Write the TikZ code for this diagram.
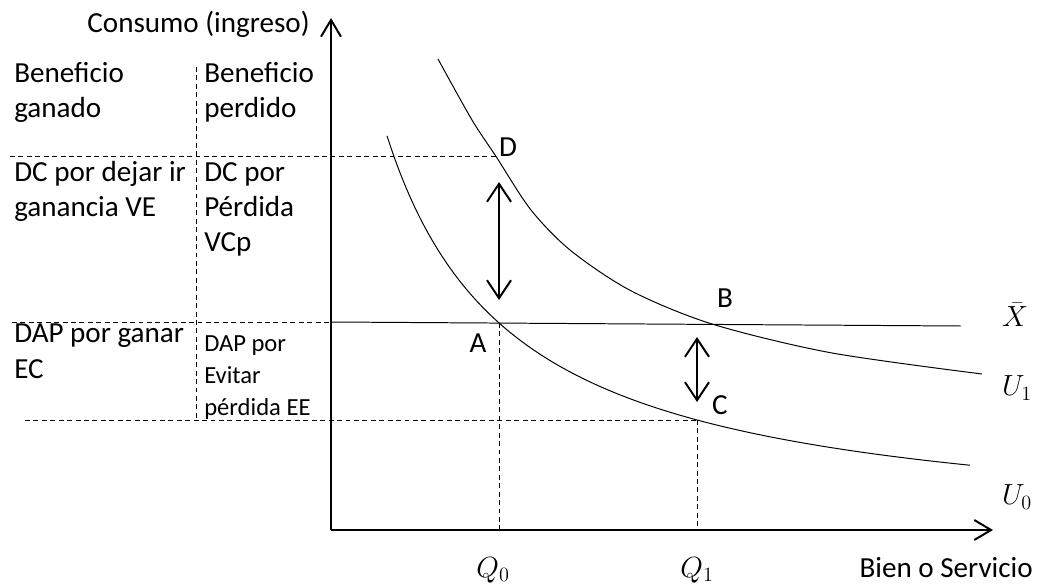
\documentclass[tikz,border=0pt]{standalone}
\usepackage{fontspec}
\setmainfont{Carlito}
\usepackage{tikz}
\usetikzlibrary{arrows.meta,positioning,calc}

\begin{document}
\begin{tikzpicture}[
    font=\fontsize{20.7}{25}\selectfont,
    axis/.style={line width=1.4pt, -{Straight Barb[length=4.2mm,width=5mm]}},
    gap/.style={line width=1.4pt, {Straight Barb[length=4.5mm,width=6mm]}-{Straight Barb[length=4.5mm,width=6mm]}},
    indif/.style={line width=0.7pt},
    guide/.style={line width=0.6pt, dash pattern=on 3.5pt off 2.5pt},
    txt/.style={anchor=base west, align=left, inner sep=0pt},
    pt/.style={inner sep=0pt}
]
    \useasboundingbox (-8.275,-1.35) rectangle (17.65,13.25);

    % points on the curves
    \coordinate (O) at (0,0);
    \coordinate (A) at (4.2,5.175);
    \coordinate (B) at (9.525,5.15);
    \coordinate (C) at (9.15,2.75);
    \coordinate (D) at (4.125,9.34);

    % axes
    \draw[axis] (O) -- (0,12.8) coordinate (ytop);
    \draw[axis] (O) -- (16.55,0) coordinate (xend);
    \node[pt, anchor=base east] (ylab) at (-0.525,12.425) {Consumo (ingreso)};
    \node[pt, anchor=east] (xlab) at (17.55,-0.93) {Bien o Servicio};

    % guide lines
    \coordinate (g1) at (-8.025,9.34);
    \coordinate (g2) at (-7.975,5.2);
    \coordinate (g3) at (-7.65,2.75);
    \coordinate (vtop) at (-3.375,11.575);
    \coordinate (vbot) at (-3.375,2.75);
    \draw[guide] (g1) -- (D);
    \draw[guide] (g2) -- (0,5.2);
    \draw[guide] (g3) -- (C);
    \draw[guide] (vtop) -- (vbot);
    \draw[guide] (A) -- (A |- O);
    \draw[guide] (C) -- (C |- O);

    % budget line
    \draw[indif] (0,5.2) -- (15.75,5.1) coordinate (xb);

    % indifference curves
    \draw[indif] plot[domain=1.4:15.975, samples=80, smooth] (\x, {32.37/(\x+1.82)-0.2});
    \draw[indif] plot[smooth] coordinates {(2.675,11.775) (3.525,10.25) (D) (5.0,8.0) (6.0,6.98) (7.5,5.98) (B) (12.5,4.43) (16.275,3.9)};

    % variations
    \coordinate (d1) at (4.2,8.7);
    \coordinate (d2) at (4.2,5.75);
    \coordinate (d3) at (9.15,4.825);
    \coordinate (d4) at (9.15,3.2);
    \draw[gap] (d1) -- (d2);
    \draw[gap] (d3) -- (d4);

    % point labels
    \node (labD) at (4.425,9.575) {D};
    \node (labB) at (9.85,5.8) {B};
    \node (labA) at (3.675,4.675) {A};
    \node (labC) at (9.725,3.125) {C};
    \node (xbar) at (17.1,5.375) {$\bar{X}$};
    \node (u1) at (17.15,3.55) {$U_1$};
    \node (u0) at (17.15,0.825) {$U_0$};
    \node (q0) at (4.05,-1.0) {$Q_0$};
    \node (q1) at (9.15,-1.0) {$Q_1$};

    % measures
    \node[txt] (gan) at (-7.925,10.3) {Beneficio\\ganado};
    \node[txt] (per) at (-3.175,10.3) {Beneficio\\perdido};
    \node[txt] (dcve) at (-7.925,7.825) {DC por dejar ir\\ganancia VE};
    \node[txt] (dcvcp) at (-3.175,6.95) {DC por\\Pérdida\\VCp};
    \node[txt] (dapec) at (-7.925,3.8) {DAP por ganar\\EC};
    \node[txt, font=\fontsize{17.5}{22.5}\selectfont] (dapee) at (-3.175,2.875) {DAP por\\Evitar\\pérdida EE};
\end{tikzpicture}
\end{document}
